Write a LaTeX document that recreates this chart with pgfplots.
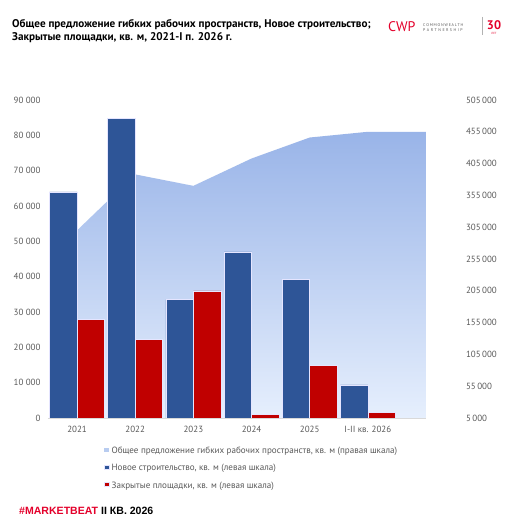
\documentclass[border=0pt]{standalone}
\usepackage{pgfplots}
\pgfplotsset{compat=1.18}
\usepackage{fontspec}
\setmainfont{PT Sans}
\newfontfamily\footfont{Liberation Sans}
\definecolor{cwblue}{HTML}{2E5597}
\definecolor{cwred}{HTML}{C00000}
\definecolor{areatop}{HTML}{99B4E8}
\definecolor{areabot}{HTML}{E6EFFD}
\definecolor{txtgray}{HTML}{595959}
\definecolor{logored}{HTML}{E4002B}
\begin{document}
\begin{tikzpicture}
\fill[white] (0bp,0bp) rectangle (514bp,528bp);
% title
\node[anchor=base west, inner sep=0pt, font=\bfseries\fontsize{11.2}{13}\selectfont] at (12bp,500.7bp) {Общее предложение гибких рабочих пространств, Новое строительство;};
\node[anchor=base west, inner sep=0pt, font=\bfseries\fontsize{11.2}{13}\selectfont] at (12bp,487.3bp) {Закрытые площадки, кв. м, 2021-I п. 2026 г.};
% logo
\node[anchor=base west, inner sep=0pt, text=logored, font=\fontsize{14}{14}\selectfont] at (388bp,496.5bp) {CWP};
\node[anchor=base west, inner sep=0pt, align=left, text=txtgray, font=\fontsize{4}{5.2}\selectfont] at (423bp,496.8bp) {C\kern0.8pt O\kern0.8pt M\kern0.8pt M\kern0.8pt O\kern0.8pt N\kern0.8pt W\kern0.8pt E\kern0.8pt A\kern0.8pt L\kern0.8pt T\kern0.8pt H\\P\kern1.5pt A\kern1.5pt R\kern1.5pt T\kern1.5pt N\kern1.5pt E\kern1.5pt R\kern1.5pt S\kern1.5pt H\kern1.5pt I\kern1.5pt P};
\draw[gray!60, line width=0.5pt] (482bp,511bp) -- (482bp,493bp);
\node[anchor=base, inner sep=0pt, align=center, text=logored, font=\fontsize{3}{5.5}\selectfont] at (494bp,493.5bp) {{\bfseries\fontsize{12.5}{13}\selectfont 30}\\ЛЕТ};
% footer
\node[anchor=base west, inner sep=0pt, font=\footfont\bfseries\fontsize{10.6}{12}\selectfont] at (19bp,13.7bp) {\textcolor{logored}{\#MARKETBEAT} II КВ. 2026};
% right axis: total supply (area)
\begin{axis}[at={(48bp,110bp)}, anchor=south west, scale only axis,
  width=378bp, height=318bp,
  xmin=-0.5, xmax=6, ymin=5000, ymax=505000,
  axis x line*=bottom, axis y line*=right,
  x axis line style={draw=none}, xtick=\empty,
  y axis line style={draw=none}, major tick length=0,
  ytick={5000,55000,...,505000},
  scaled y ticks=false,
  yticklabel style={anchor=west, xshift=36.5bp, text=txtgray, font=\fontsize{9}{11}\selectfont},
  /pgf/number format/.cd, fixed, precision=0, 1000 sep={\,}, assume math mode=true]
\addplot[draw=none, top color=areatop, bottom color=areabot] coordinates {
 (0,300000) (1,388000) (2,370000) (3,413000) (4,446000) (5,455000) (6,455000)} \closedcycle;
\end{axis}
% left axis: bars
\begin{axis}[at={(48bp,110bp)}, anchor=south west, scale only axis,
  width=378bp, height=318bp,
  xmin=-0.5, xmax=6, ymin=0, ymax=90000,
  axis x line*=bottom, axis y line*=left,
  y axis line style={draw=none},
  x axis line style={draw=black!15, line width=0.8pt},
  major tick length=0,
  xtick={0,1,2,3,4,5},
  xticklabels={2021,2022,2023,2024,2025,I-II кв. 2026},
  ytick={0,10000,...,90000},
  scaled y ticks=false,
  ybar=0pt, bar width=27.5bp,
  yticklabel style={anchor=east, xshift=-4bp, text=txtgray, font=\fontsize{9}{11}\selectfont},
  xticklabel style={yshift=-4.5bp, text=txtgray, font=\fontsize{9}{11}\selectfont},
  legend image code/.code={\fill[#1] (0bp,-0.5bp) rectangle (5bp,3.5bp);},
  legend style={at={(axis description cs:0.14,-0.078)}, anchor=north west, draw=none, fill=none,
    font=\fontsize{9.1}{11}\selectfont, text=txtgray, row sep=5.5pt},
  legend cell align=left,
  /pgf/number format/.cd, fixed, precision=0, 1000 sep={\ }, assume math mode=true]
\addlegendimage{fill=areatop!60!areabot, draw=none}
\addlegendentry{Общее предложение гибких рабочих пространств, кв. м (правая шкала)}
\addplot[fill=cwblue, draw=blue!10, line width=0.5pt] coordinates {
 (0,64000) (1,84800) (2,33500) (3,47000) (4,39300) (5,9400)};
\addlegendentry{Новое строительство, кв. м (левая шкала)}
\addplot[fill=cwred, draw=blue!10, line width=0.5pt] coordinates {
 (0,28000) (1,22300) (2,36000) (3,1100) (4,14800) (5,1600)};
\addlegendentry{Закрытые площадки, кв. м (левая шкала)}
\end{axis}
\pgfresetboundingbox
\useasboundingbox (0bp,0bp) rectangle (514bp,528bp);
\end{tikzpicture}
\end{document}
